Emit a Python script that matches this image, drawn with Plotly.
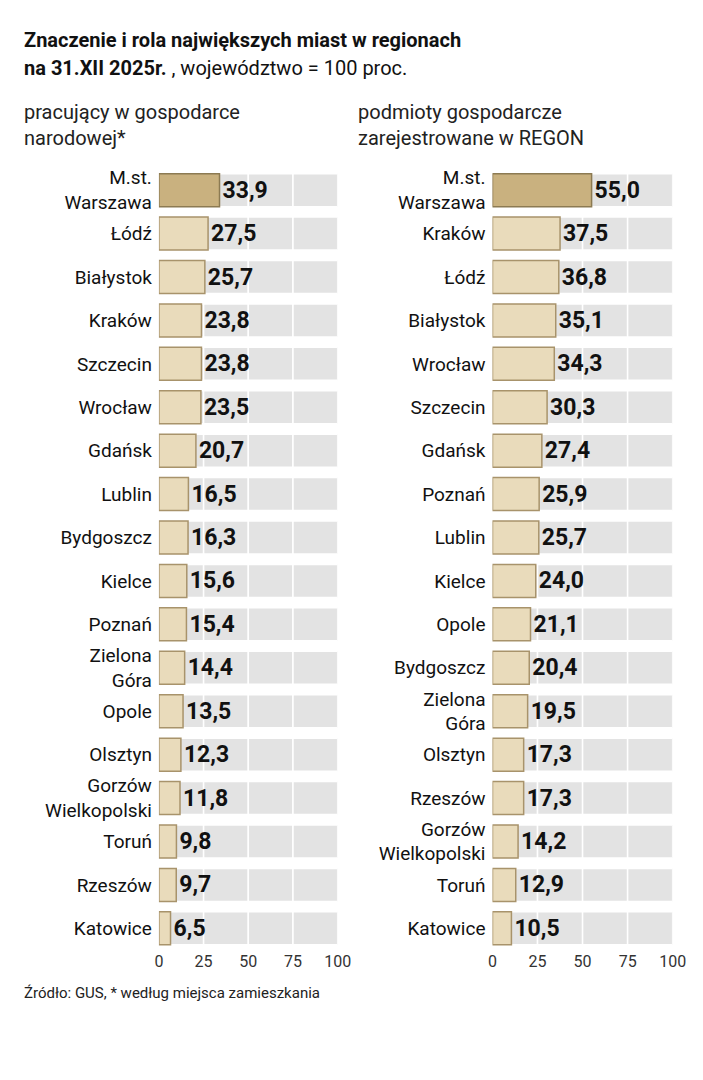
import plotly.graph_objects as go

# pracujący w gospodarce narodowej*
cities_l = ["M.st.<br>Warszawa", "Łódź", "Białystok", "Kraków", "Szczecin", "Wrocław",
            "Gdańsk", "Lublin", "Bydgoszcz", "Kielce", "Poznań", "Zielona<br>Góra",
            "Opole", "Olsztyn", "Gorzów<br>Wielkopolski", "Toruń", "Rzeszów", "Katowice"]
vals_l = [33.9, 27.5, 25.7, 23.8, 23.8, 23.5, 20.7, 16.5, 16.3, 15.6, 15.4, 14.4,
          13.5, 12.3, 11.8, 9.8, 9.7, 6.5]

# podmioty gospodarcze zarejestrowane w REGON
cities_r = ["M.st.<br>Warszawa", "Kraków", "Łódź", "Białystok", "Wrocław", "Szczecin",
            "Gdańsk", "Poznań", "Lublin", "Kielce", "Opole", "Bydgoszcz",
            "Zielona<br>Góra", "Olsztyn", "Rzeszów", "Gorzów<br>Wielkopolski", "Toruń", "Katowice"]
vals_r = [55.0, 37.5, 36.8, 35.1, 34.3, 30.3, 27.4, 25.9, 25.7, 24.0, 21.1, 20.4,
          19.5, 17.3, 17.3, 14.2, 12.9, 10.5]

ticks = [0, 25, 50, 75, 100]

GRAY = "#e3e3e3"
HI_FILL, HI_LINE = "#c9b17f", "#8c7a52"
FILL, LINE = "#e9dbbb", "#a8936b"
FONT = "Roboto, sans-serif"

fig = go.Figure()


def add_panel(cities, vals, xa, ya):
    n = len(cities)
    # gray background split into quarters (white gaps act as gridlines)
    for b in ticks[:-1]:
        fig.add_trace(go.Bar(y=cities, x=[25] * n, base=[b] * n, orientation="h",
                             marker=dict(color=GRAY, line=dict(color="white", width=1.5)),
                             width=0.76, xaxis=xa, yaxis=ya, hoverinfo="skip",
                             showlegend=False))
    fills = [HI_FILL] + [FILL] * (n - 1)
    lines = [HI_LINE] + [LINE] * (n - 1)
    fig.add_trace(go.Bar(y=cities, x=vals, orientation="h",
                         marker=dict(color=fills, line=dict(color=lines, width=1.5)),
                         width=0.76, xaxis=xa, yaxis=ya, showlegend=False,
                         text=[f"<b>{v:.1f}</b>".replace(".", ",") for v in vals],
                         textposition="outside", cliponaxis=False,
                         textfont=dict(family=FONT, size=23, color="#111")))


add_panel(cities_l, vals_l, "x", "y")
add_panel(cities_r, vals_r, "x2", "y2")

axis_x = dict(range=[0, 100], tickvals=ticks, showgrid=False, zeroline=False,
              tickfont=dict(family=FONT, size=16, color="#333"), ticks="", fixedrange=True)
axis_y = dict(autorange="reversed", showgrid=False, ticks="", ticklabelstandoff=6,
              tickfont=dict(family=FONT, size=19, color="#111"))

fig.update_layout(
    width=703, height=1080, margin=dict(l=0, r=0, t=0, b=0),
    paper_bgcolor="white", plot_bgcolor="white",
    barmode="overlay", bargap=0.24,
    xaxis=dict(domain=[0.213, 0.474], anchor="y", **axis_x),
    yaxis=dict(domain=[0.128, 0.853], anchor="x", **axis_y),
    xaxis2=dict(domain=[0.70, 0.963], anchor="y2", **axis_x),
    yaxis2=dict(domain=[0.128, 0.853], anchor="x2", **axis_y),
    font=dict(family=FONT),
)

annos = [
    (0.013, 0.972, "<b>Znaczenie i rola największych miast w regionach</b>", 20, "#111"),
    (0.013, 0.946, "<b>na 31.XII 2025r.</b> , województwo = 100 proc.", 20, "#111"),
    (0.013, 0.905, "pracujący w gospodarce", 20, "#222"),
    (0.013, 0.881, "narodowej*", 20, "#222"),
    (0.50, 0.905, "podmioty gospodarcze", 20, "#222"),
    (0.50, 0.881, "zarejestrowane w REGON", 20, "#222"),
    (0.013, 0.088, "Źródło: GUS, * według miejsca zamieszkania", 15, "#222"),
]
for x, y, t, s, c in annos:
    fig.add_annotation(x=x, y=y, xref="paper", yref="paper", text=t, showarrow=False,
                       xanchor="left", yanchor="middle",
                       font=dict(family=FONT, size=s, color=c))

fig.write_html("out.html")
